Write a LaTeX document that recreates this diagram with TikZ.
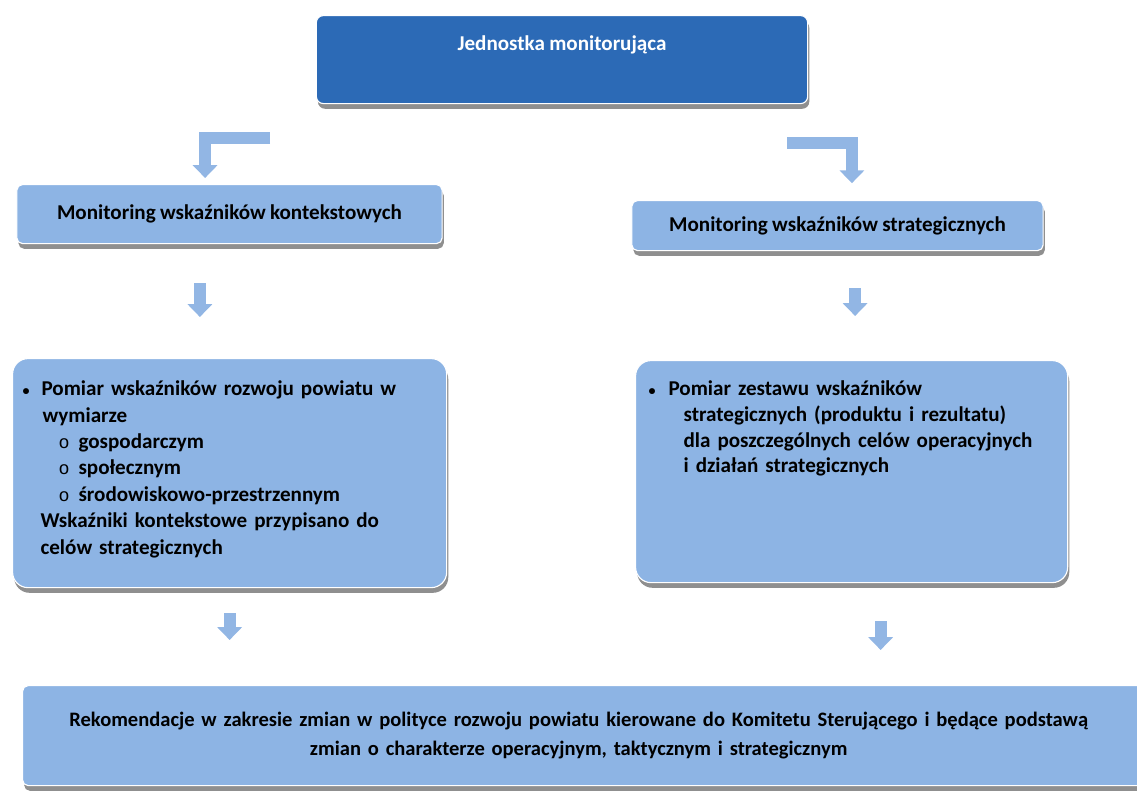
\documentclass[tikz,border=0pt]{standalone}
\usepackage{fontspec}
\setmainfont{Carlito}[WordSpace=0.9]
\newfontfamily\monofont{Liberation Mono}
\usetikzlibrary{arrows.meta,positioning,shadows}
\definecolor{topblue}{RGB}{44,106,182}
\definecolor{boxblue}{RGB}{141,180,228}
\definecolor{arrowblue}{RGB}{146,182,228}
\newcommand{\dotmark}{\makebox[0.2cm][l]{\fontsize{10}{10}\selectfont •}}
\newcommand{\ringmark}{{\monofont\mdseries\fontsize{13}{13}\selectfont o}}
\begin{document}
\begin{tikzpicture}[
  x=0.025cm, y=-0.025cm,
  font=\bfseries\fontsize{15}{18.8}\selectfont,
  shade/.style={drop shadow={shadow xshift=0.04cm,shadow yshift=-0.13cm,fill=black!55,opacity=0.8}},
  head/.style={fill=topblue,draw=white,line width=0.8pt,rounded corners=5pt,text=white,shade,inner ysep=0pt,minimum width=12.28cm,text height=0.875cm,text depth=1.325cm},
  box/.style={fill=boxblue,draw=white,line width=0.8pt,rounded corners=4pt,shade,align=center},
  panel/.style={fill=boxblue,draw=white,line width=0.8pt,rounded corners=11pt,shade,align=left,inner ysep=0pt},
  fat/.style={draw=arrowblue,line width=0.3cm,line join=miter,-{Triangle[width=0.6cm,length=0.32cm]}}
]
\useasboundingbox (0,0) rectangle (1137,804);
\node[head, anchor=north] (unit) at (562,15) {Jednostka monitorująca};
\node[box, anchor=north, minimum width=10.63cm, minimum height=1.475cm] (kontekst) at (229.5,184) {Monitoring wskaźników kontekstowych};
\node[box, anchor=north, minimum width=10.28cm, minimum height=1.25cm] (strateg) at (837.5,200) {Monitoring wskaźników strategicznych};
\node[panel, anchor=north west, inner xsep=0.25cm, text width=10.35cm, text height=0.925cm, text depth=4.8cm] (pomiarK) at (12,358) {\makebox[0.475cm][l]{\dotmark}Pomiar wskaźników rozwoju powiatu w\\
\hspace*{0.5cm}wymiarze\\
\hspace*{0.9cm}\makebox[0.5cm][l]{\ringmark}gospodarczym\\
\hspace*{0.9cm}\makebox[0.5cm][l]{\ringmark}społecznym\\
\hspace*{0.9cm}\makebox[0.5cm][l]{\ringmark}środowiskowo-przestrzennym\\
\hspace*{0.45cm}Wskaźniki kontekstowe przypisano do\\
\hspace*{0.45cm}celów strategicznych};
\node[panel, anchor=north west, inner xsep=0.325cm, text width=10.15cm, text height=0.875cm, text depth=4.675cm, font=\bfseries\fontsize{15}{18.3}\selectfont] (pomiarS) at (635,360) {\makebox[0.5cm][l]{\dotmark}Pomiar zestawu wskaźników\\
\hspace*{0.875cm}strategicznych (produktu i rezultatu)\\
\hspace*{0.875cm}dla poszczególnych celów operacyjnych\\
\hspace*{0.875cm}i działań strategicznych};
\node[box, anchor=north west, minimum width=28.45cm, minimum height=2.5cm, text width=26.5cm, font=\bfseries\fontsize{14.6}{20}\selectfont] (rek) at (22,685) {\hspace*{-0.65cm}Rekomendacje w zakresie zmian w polityce rozwoju powiatu kierowane do Komitetu Sterującego i będące podstawą\\
\hspace*{-0.65cm}zmian o charakterze operacyjnym, taktycznym i strategicznym};
\coordinate (lstart) at (270,138);
\coordinate (rstart) at (787,143);
\draw[fat, shorten >=0.15cm] (lstart) -| ([xshift=-0.61cm]kontekst.north);
\draw[fat, shorten >=0.42cm] (rstart) -| ([xshift=0.36cm]strateg.north);
\draw[fat, shorten <=0.975cm, shorten >=1.025cm] ([xshift=-0.74cm]kontekst.south) -- ([xshift=-0.74cm]kontekst.south |- pomiarK.north);
\draw[fat, shorten <=0.925cm, shorten >=1.1cm] ([xshift=0.44cm]strateg.south) -- ([xshift=0.44cm]strateg.south |- pomiarS.north);
\draw[fat, shorten <=0.625cm, shorten >=1.125cm] (pomiarK.south) -- (pomiarK.south |- rek.north);
\draw[fat, shorten <=0.95cm, shorten >=0.875cm] ([xshift=0.725cm]pomiarS.south) -- ([xshift=0.725cm]pomiarS.south |- rek.north);
\end{tikzpicture}
\end{document}
